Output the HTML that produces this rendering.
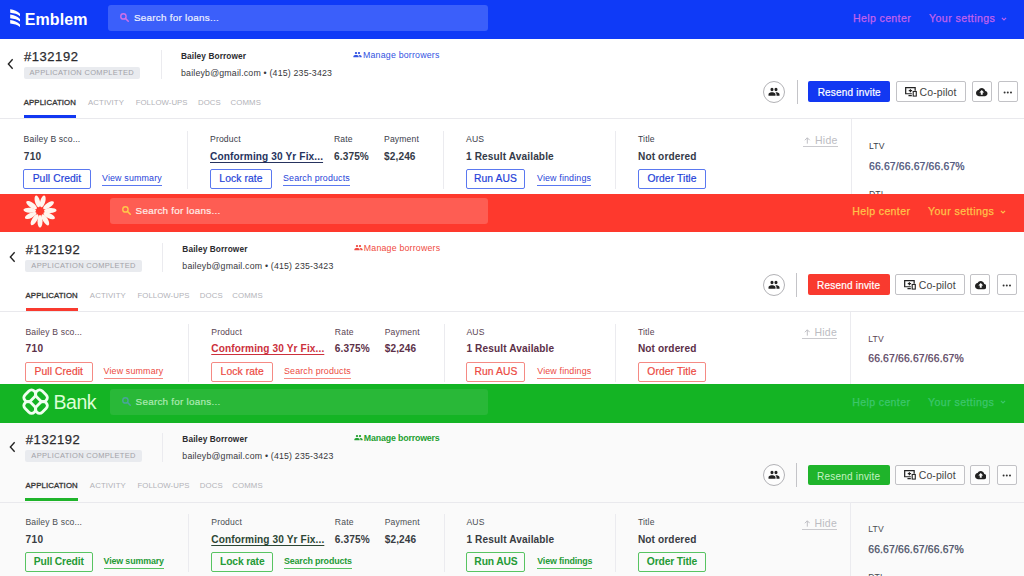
<!DOCTYPE html>
<html><head><meta charset="utf-8"><title>Themes</title>
<style>
*{box-sizing:border-box;margin:0;padding:0}
html,body{width:1024px;height:576px;overflow:hidden;background:#fff;font-family:"Liberation Sans",sans-serif;color:#2a2a2e}
.panel{position:absolute;left:0;width:1024px;overflow:hidden;background:linear-gradient(var(--hb) 0,var(--hb) var(--hh),var(--bg) var(--hh))}
.p1{z-index:3;--hh:38.8px}.p2{z-index:2;--hh:39.4px}.p3{z-index:1;--hh:39.7px}
.in{position:absolute;left:0;top:0;width:1030px;height:100%;transform-origin:0 0}

.in>*{position:absolute}
.p1{--c:#1238f2;--cl:#3253e2;--hb:#0f3af7;--sb:#3b5ffa;--st:#eef1ff;--ht:#c262ee;--mg:#d070e8;--bd:#5a78f0;--tx:#1f3fd8;--lb:#3a3d4a;--vl:#343a48;--pl:#26335e;--mw:normal;--bg:#fff}
.p2{--c:#f93a2f;--cl:#f04a40;--hb:#fe392d;--sb:#fe5d53;--st:#ffeeea;--ht:#ffc24a;--mg:#ffc84a;--bd:#f58a84;--tx:#ec4a42;--lb:#5a4452;--vl:#5c3048;--pl:#cc303c;--mw:normal;--bg:#fff}
.p3{--c:#1fb42b;--cl:#23a030;--hb:#14b424;--sb:#29b838;--st:#aeeab4;--ht:#3cc66c;--mg:#4aa49a;--bd:#58c462;--tx:#259a36;--lb:#4a4e52;--vl:#383c42;--pl:#2c4634;--mw:bold;--bg:#fafafa}
.hdr{left:0;top:0;width:1030px;height:39px}
.hdr>*{position:absolute}
.search{left:108px;top:5px;width:380px;height:26px;border-radius:3px;background:var(--sb);color:var(--st);font-size:9.9px;line-height:26px}
.search span{position:absolute;left:26px;top:0;letter-spacing:.25px;-webkit-text-stroke:.2px currentColor}
.mag{position:absolute;left:11.3px;top:7.3px;width:10.6px;height:10.6px;color:var(--mg)}
.help{left:853px;top:12px;font-size:10.6px;line-height:12px;color:var(--ht);letter-spacing:.35px;-webkit-text-stroke:.25px var(--ht)}
.sett{left:929px;top:12px;font-size:10.6px;line-height:12px;color:var(--ht);letter-spacing:.42px;white-space:nowrap;-webkit-text-stroke:.25px var(--ht)}
.sett svg{width:6px;height:4px;margin-left:6px;vertical-align:1.5px}
.lg1{left:9.6px;top:8.9px;width:10.7px;height:19px}
.lt1{left:24.7px;top:10px;font-size:16px;line-height:19px;font-weight:bold;color:#fff;letter-spacing:.1px}
.lg2{left:20.5px;top:0px;width:36px;height:36px}
.lg3{left:19.2px;top:2.9px;width:29.2px;height:29.2px}
.lt3{left:51.7px;top:7.5px;font-size:19.5px;line-height:22px;color:#dcffd6;letter-spacing:-.45px}
.back{left:7px;top:58px;width:7px;height:12px}
.loanno{left:24px;top:49px;font-size:13px;line-height:16px;letter-spacing:.55px;color:#2b2b2f;-webkit-text-stroke:.25px #2b2b2f}
.badge{left:23.5px;top:67px;width:116.5px;height:12px;background:#e9ebef;border-radius:2px;font-size:7.5px;line-height:12.500px;text-align:center;color:#a2a2a8;letter-spacing:.32px;white-space:nowrap}
.vd{width:1px;background:#ebebef}
.bname{left:181px;top:50.5px;font-size:8.3px;line-height:11px;font-weight:bold;color:#2b2b2f;letter-spacing:.1px}
.bmail{left:181px;top:67.5px;font-size:8.8px;line-height:11px;color:#38383c;letter-spacing:.18px;white-space:nowrap}
.manage{font-weight:var(--mw);left:353px;top:49.5px;font-size:8.8px;line-height:11px;color:var(--cl);letter-spacing:.2px;white-space:nowrap}
.manage svg{width:9px;height:9px;vertical-align:-1.500px;margin-right:1px}
.tabs{left:23.7px;top:98px;font-size:7.8px;line-height:10px;color:#b2b2b8;letter-spacing:.12px;white-space:nowrap}
.tabs span{position:absolute;top:0}
.tabs .on{color:#333;left:0;-webkit-text-stroke:.3px #333}
.tabline{left:23.7px;top:114.7px;width:52.7px;height:3px;background:var(--c)}
.hd{left:-3px;top:118.4px;width:1036px;height:1px;background:#e9e9ed}
.avatar{left:763.4px;top:81px;width:22px;height:22px;border-radius:50%;border:1px solid #b2b2b6;background:#fff}
.avatar svg{position:absolute;left:4px;top:3.2px;width:12px;height:13.6px}
.resend{left:808.3px;top:81.4px;width:82px;height:20.3px;border-radius:2px;background:var(--c);color:#fff;font-size:10px;line-height:23px;-webkit-text-stroke:.2px #fff;text-align:center;letter-spacing:.2px}
.obtn{top:81.4px;height:20.3px;border:1px solid #c2c2c6;border-radius:2px;background:#fff;font-size:10px;line-height:18.3px;color:#2b2b2f;white-space:nowrap;text-align:center;letter-spacing:.1px}
.cop{position:absolute;left:6.7px;top:2.6px;width:13.4px;height:12.4px}
.cot{position:absolute;left:22.6px;top:0.5px;font-size:10.5px;color:#444}
.cld{position:absolute;left:3.5px;top:3.4px;width:11.5px;height:12.2px}
.dots{position:absolute;left:4.3px;top:8.4px;width:9.6px;height:3.2px}
.lbl{top:134px;font-size:8.600px;line-height:11px;color:var(--lb);letter-spacing:.15px;white-space:nowrap}
.val{top:150.6px;font-size:10.1px;line-height:12px;font-weight:bold;color:var(--vl);letter-spacing:.12px;white-space:nowrap}
.val.u{text-decoration:underline;text-underline-offset:1.5px;text-decoration-thickness:1px;text-decoration-skip-ink:none;color:var(--pl)}
.btn{font-weight:var(--mw);top:168.8px;height:20px;border:1px solid var(--bd);border-radius:2px;background:transparent;font-size:10.3px;line-height:18.4px;color:var(--tx);text-align:center;white-space:nowrap;letter-spacing:.1px}
.lnk{font-weight:var(--mw);top:173px;font-size:8.9px;line-height:11px;color:var(--tx);border-bottom:1px solid var(--bd);padding-bottom:1px;letter-spacing:.15px;white-space:nowrap}
.hide{left:802.6px;top:134px;width:35px;font-size:10.5px;line-height:12px;color:#bcbcc2;border-bottom:1px solid #cacace;letter-spacing:.25px;white-space:nowrap;text-align:right}
.hide svg{position:absolute;left:1.5px;top:2.8px;width:6.6px;height:7px}
.ltv{left:869px;top:160.7px;font-size:10.4px;line-height:12px;color:#4a5178;letter-spacing:.15px;-webkit-text-stroke:.25px #4a5178;white-space:nowrap}

.p3 .btn,.p3 .lnk,.p3 .manage{letter-spacing:-.15px}
.p3 .resend{color:#c4f2c4;-webkit-text-stroke:0}
.p3 .obtn,.p3 .avatar{background:#fdfdfd}

.p1 .btn,.p2 .btn{-webkit-text-stroke:.2px currentColor}

.p3 .hdr{top:.7px}
.p2 .val,.p2 .hide,.p2 .ltv{margin-top:-.6px}
.p2 .ltv{color:#5a4462;-webkit-text-stroke-color:#5a4462}
.p3 .ltv{color:#484e64;-webkit-text-stroke-color:#484e64}
.p3 .tabline{margin-left:-.6px;width:53.3px}

.p2 .search,.p3 .search{left:109.57px}
.p2 .help,.p3 .help{left:852.26px}
.p2 .sett,.p3 .sett{left:928.02px}
.p2 .lg2,.p3 .lg2{left:22.34px}
.p2 .lg3,.p3 .lg3{left:21.04px}
.p2 .lt3,.p3 .lt3{left:53.44px}
.p2 .back,.p3 .back{left:8.88px}
.p2 .loanno,.p3 .loanno{left:25.83px}
.p2 .badge,.p3 .badge{left:25.33px}
.p2 .bname,.p3 .bname{left:182.34px}
.p2 .bmail,.p3 .bmail{left:182.34px}
.p2 .manage,.p3 .manage{left:353.81px}
.p2 .tabs,.p3 .tabs{left:25.53px}
.p2 .tabline,.p3 .tabline{left:25.53px}
.p2 .avatar,.p3 .avatar{left:762.93px}
.p2 .resend,.p3 .resend{left:807.69px}
.p2 .hide,.p3 .hide{left:802.01px}
.p2 .ltv,.p3 .ltv{left:868.21px}
.p2 .search,.p3 .search{width:378.8px}

</style></head><body>

<div class="panel p1" style="top:0px;height:193.75px"><div class="in">
  <div class="hdr">
    <svg class="lg1" viewBox="0 0 11 19"><g fill="#fff"><path d="M0.2 0.00 C4 0.50 8 2.10 10.4 4.70 L10.4 7.30 C8 5.20 4 4.10 0.2 3.70Z"/><path d="M0.2 5.50 C4 6.00 8 7.60 10.4 10.20 L10.4 12.80 C8 10.70 4 9.60 0.2 9.20Z"/><path d="M0.2 11.00 C4 11.50 8 13.10 10.4 15.70 L10.4 18.30 C8 16.20 4 15.10 0.2 14.70Z"/></g></svg><div class="lt1">Emblem</div>
    <div class="search"><svg class="mag" viewBox="0 0 24 24"><circle cx="10" cy="10" r="6" fill="none" stroke="currentColor" stroke-width="3.2"/><path d="M14.5 14.5 L21 21" stroke="currentColor" stroke-width="3.4" stroke-linecap="round"/></svg><span>Search for loans...</span></div>
    <div class="help">Help center</div>
    <div class="sett">Your settings<svg viewBox="0 0 10 6"><path d="M1.5 1.2 L5 4.5 L8.5 1.2" fill="none" stroke="currentColor" stroke-width="2"/></svg></div>
  </div>
  <svg class="back" viewBox="0 0 8 14"><path d="M6.5 1.5 L1.5 7 L6.5 12.5" fill="none" stroke="#222" stroke-width="1.6"/></svg>
  <div class="loanno">#132192</div>
  <div class="badge">APPLICATION COMPLETED</div>
  <div class="vd" style="left:161px;top:50px;height:29px"></div>
  <div class="bname">Bailey Borrower</div>
  <div class="bmail">baileyb@gmail.com &bull; (415) 235-3423</div>
  <div class="manage"><svg viewBox="0 0 24 24"><path fill="currentColor" d="M16 11c1.66 0 2.99-1.34 2.99-3S17.66 5 16 5c-1.66 0-3 1.34-3 3s1.34 3 3 3zm-8 0c1.66 0 2.99-1.34 2.99-3S9.66 5 8 5C6.34 5 5 6.34 5 8s1.34 3 3 3zm0 2c-2.33 0-7 1.17-7 3.500V19h14v-2.500c0-2.330-4.670-3.500-7-3.500zm8 0c-.29 0-.62.02-.97.05 1.160.84 1.970 1.970 1.970 3.450V19h6v-2.500c0-2.330-4.670-3.500-7-3.500z"/></svg>Manage borrowers</div>
  <div class="tabs"><span class="on">APPLICATION</span><span style="left:64.3px">ACTIVITY</span><span style="left:112px;letter-spacing:.05px">FOLLOW-UPS</span><span style="left:174.2px">DOCS</span><span style="left:206.8px">COMMS</span></div>
  <div class="tabline"></div>
  <div class="hd"></div>
  <div class="avatar"><svg viewBox="0 0 24 24" preserveAspectRatio="none"><path fill="#222" d="M16 11c1.66 0 2.99-1.34 2.99-3S17.66 5 16 5c-1.66 0-3 1.34-3 3s1.34 3 3 3zm-8 0c1.66 0 2.99-1.34 2.99-3S9.66 5 8 5C6.34 5 5 6.34 5 8s1.34 3 3 3zm0 2c-2.33 0-7 1.17-7 3.500V19h14v-2.500c0-2.330-4.670-3.500-7-3.500zm8 0c-.29 0-.62.02-.97.05 1.160.84 1.970 1.970 1.970 3.450V19h6v-2.500c0-2.330-4.670-3.500-7-3.500z"/></svg></div>
  <div class="vd" style="left:797px;top:80px;height:23.5px;background:#c4c4c8"></div>
  <div class="resend">Resend invite</div>
  <div class="obtn" style="left:896px;width:70px"><svg class="cop" viewBox="0 0 24 24" preserveAspectRatio="none"><path fill="none" stroke="#222" stroke-width="2.2" d="M14 17H3V5h17v6"/><path stroke="#222" stroke-width="2.2" d="M8 20.500h6M11.500 8v6M8.500 11h6"/><rect x="16.500" y="12.500" width="5.500" height="9" fill="#fff" stroke="#222" stroke-width="2"/></svg><span class="cot">Co-pilot</span></div>
  <div class="obtn" style="left:971.5px;width:20px"><svg class="cld" viewBox="0 0 24 24" preserveAspectRatio="none"><path fill="#222" d="M19.350 10.040C18.670 6.590 15.640 4 12 4 9.110 4 6.600 5.640 5.350 8.040 2.340 8.360 0 10.910 0 14c0 3.310 2.690 6 6 6h13c2.760 0 5-2.240 5-5 0-2.640-2.050-4.780-4.650-4.960zM14 13v4h-4v-4H7l5-5 5 5h-3z"/></svg></div>
  <div class="obtn" style="left:998.2px;width:20px"><svg class="dots" viewBox="0 0 12 4"><circle cx="2" cy="2" r="1.250" fill="#333"/><circle cx="6" cy="2" r="1.250" fill="#333"/><circle cx="10" cy="2" r="1.250" fill="#333"/></svg></div>

  <div class="lbl" style="left:23.6px">Bailey B sco...</div>
  <div class="val" style="left:23.7px;letter-spacing:.35px">710</div>
  <div class="btn" style="left:23.2px;width:67.5px">Pull Credit</div>
  <div class="lnk" style="left:102px">View summary</div>
  <div class="vd" style="left:187px;top:131px;height:58px"></div>

  <div class="lbl" style="left:210px">Product</div>
  <div class="val u" style="left:210px">Conforming 30 Yr Fix...</div>
  <div class="btn" style="left:210px;width:62px">Lock rate</div>
  <div class="lnk" style="left:283px">Search products</div>
  <div class="lbl" style="left:334px">Rate</div>
  <div class="val" style="left:334px">6.375%</div>
  <div class="lbl" style="left:384px">Payment</div>
  <div class="val" style="left:384px">$2,246</div>
  <div class="vd" style="left:443px;top:131px;height:58px"></div>

  <div class="lbl" style="left:466px">AUS</div>
  <div class="val" style="left:466px">1 Result Available</div>
  <div class="btn" style="left:466px;width:59px">Run AUS</div>
  <div class="lnk" style="left:537px">View findings</div>
  <div class="vd" style="left:615px;top:131px;height:58px"></div>

  <div class="lbl" style="left:638px">Title</div>
  <div class="val" style="left:638px">Not ordered</div>
  <div class="btn" style="left:638px;width:68px">Order Title</div>
  <div class="hide"><svg viewBox="0 0 7 8"><path d="M3.5 7.600V1M0.700 3.700L3.500 0.900L6.300 3.700" fill="none" stroke="#bcbcc2" stroke-width="1.1"/></svg>Hide</div>
  <div class="vd" style="left:851px;top:119px;height:90px"></div>
  <div class="lbl" style="left:869px;top:141px">LTV</div>
  <div class="ltv">66.67/66.67/66.67%</div>
  <div class="lbl" style="left:869px;top:188.5px">DTI</div>
</div></div>

<div class="panel p2" style="top:193px;height:191px"><div class="in">
  <div class="hdr">
    <svg class="lg2" viewBox="-18 -18 36 36"><g fill="#fff6ee"><ellipse cx="0" cy="-10.00" rx="2.5" ry="6.00" transform="rotate(-15)"/><ellipse cx="0" cy="-10.00" rx="2.5" ry="6.00" transform="rotate(16)"/><ellipse cx="0" cy="-10.30" rx="2.5" ry="6.30" transform="rotate(56)"/><ellipse cx="0" cy="-10.30" rx="2.5" ry="6.30" transform="rotate(87)"/><ellipse cx="0" cy="-10.30" rx="2.5" ry="6.30" transform="rotate(117)"/><ellipse cx="0" cy="-10.30" rx="2.5" ry="6.30" transform="rotate(149)"/><ellipse cx="0" cy="-10.30" rx="2.5" ry="6.30" transform="rotate(180)"/><ellipse cx="0" cy="-10.30" rx="2.5" ry="6.30" transform="rotate(212)"/><ellipse cx="0" cy="-10.30" rx="2.5" ry="6.30" transform="rotate(244.5)"/><ellipse cx="0" cy="-10.30" rx="2.5" ry="6.30" transform="rotate(274)"/><ellipse cx="0" cy="-10.30" rx="2.5" ry="6.30" transform="rotate(305)"/></g></svg>
    <div class="search"><svg class="mag" viewBox="0 0 24 24"><circle cx="10" cy="10" r="6" fill="none" stroke="currentColor" stroke-width="3.2"/><path d="M14.5 14.5 L21 21" stroke="currentColor" stroke-width="3.4" stroke-linecap="round"/></svg><span>Search for loans...</span></div>
    <div class="help">Help center</div>
    <div class="sett">Your settings<svg viewBox="0 0 10 6"><path d="M1.5 1.2 L5 4.5 L8.5 1.2" fill="none" stroke="currentColor" stroke-width="2"/></svg></div>
  </div>
  <svg class="back" viewBox="0 0 8 14"><path d="M6.5 1.5 L1.5 7 L6.5 12.5" fill="none" stroke="#222" stroke-width="1.6"/></svg>
  <div class="loanno">#132192</div>
  <div class="badge">APPLICATION COMPLETED</div>
  <div class="vd" style="left:162.40px;top:50px;height:29px"></div>
  <div class="bname">Bailey Borrower</div>
  <div class="bmail">baileyb@gmail.com &bull; (415) 235-3423</div>
  <div class="manage"><svg viewBox="0 0 24 24"><path fill="currentColor" d="M16 11c1.66 0 2.99-1.34 2.99-3S17.66 5 16 5c-1.66 0-3 1.34-3 3s1.34 3 3 3zm-8 0c1.66 0 2.99-1.34 2.99-3S9.66 5 8 5C6.34 5 5 6.34 5 8s1.34 3 3 3zm0 2c-2.33 0-7 1.17-7 3.500V19h14v-2.500c0-2.330-4.670-3.500-7-3.500zm8 0c-.29 0-.62.02-.97.05 1.160.84 1.970 1.970 1.970 3.450V19h6v-2.500c0-2.330-4.670-3.500-7-3.500z"/></svg>Manage borrowers</div>
  <div class="tabs"><span class="on">APPLICATION</span><span style="left:64.3px">ACTIVITY</span><span style="left:112px;letter-spacing:.05px">FOLLOW-UPS</span><span style="left:174.2px">DOCS</span><span style="left:206.8px">COMMS</span></div>
  <div class="tabline"></div>
  <div class="hd"></div>
  <div class="avatar"><svg viewBox="0 0 24 24" preserveAspectRatio="none"><path fill="#222" d="M16 11c1.66 0 2.99-1.34 2.99-3S17.66 5 16 5c-1.66 0-3 1.34-3 3s1.34 3 3 3zm-8 0c1.66 0 2.99-1.34 2.99-3S9.66 5 8 5C6.34 5 5 6.34 5 8s1.34 3 3 3zm0 2c-2.33 0-7 1.17-7 3.500V19h14v-2.500c0-2.330-4.670-3.500-7-3.500zm8 0c-.29 0-.62.02-.97.05 1.160.84 1.970 1.970 1.970 3.450V19h6v-2.500c0-2.330-4.670-3.500-7-3.500z"/></svg></div>
  <div class="vd" style="left:796.43px;top:80px;height:23.5px;background:#c4c4c8"></div>
  <div class="resend">Resend invite</div>
  <div class="obtn" style="left:895.12px;width:70px"><svg class="cop" viewBox="0 0 24 24" preserveAspectRatio="none"><path fill="none" stroke="#222" stroke-width="2.2" d="M14 17H3V5h17v6"/><path stroke="#222" stroke-width="2.2" d="M8 20.500h6M11.500 8v6M8.500 11h6"/><rect x="16.500" y="12.500" width="5.500" height="9" fill="#fff" stroke="#222" stroke-width="2"/></svg><span class="cot">Co-pilot</span></div>
  <div class="obtn" style="left:970.39px;width:20px"><svg class="cld" viewBox="0 0 24 24" preserveAspectRatio="none"><path fill="#222" d="M19.350 10.040C18.670 6.590 15.640 4 12 4 9.110 4 6.600 5.640 5.350 8.040 2.340 8.360 0 10.910 0 14c0 3.310 2.690 6 6 6h13c2.760 0 5-2.240 5-5 0-2.640-2.050-4.780-4.650-4.960zM14 13v4h-4v-4H7l5-5 5 5h-3z"/></svg></div>
  <div class="obtn" style="left:997.01px;width:20px"><svg class="dots" viewBox="0 0 12 4"><circle cx="2" cy="2" r="1.250" fill="#333"/><circle cx="6" cy="2" r="1.250" fill="#333"/><circle cx="10" cy="2" r="1.250" fill="#333"/></svg></div>

  <div class="lbl" style="left:25.43px">Bailey B sco...</div>
  <div class="val" style="left:25.53px;letter-spacing:.35px">710</div>
  <div class="btn" style="left:25.03px;width:67.5px">Pull Credit</div>
  <div class="lnk" style="left:103.58px">View summary</div>
  <div class="vd" style="left:188.32px;top:131px;height:58px"></div>

  <div class="lbl" style="left:211.25px">Product</div>
  <div class="val u" style="left:211.25px">Conforming 30 Yr Fix...</div>
  <div class="btn" style="left:211.25px;width:62px">Lock rate</div>
  <div class="lnk" style="left:284.02px">Search products</div>
  <div class="lbl" style="left:334.86px">Rate</div>
  <div class="val" style="left:334.86px">6.375%</div>
  <div class="lbl" style="left:384.71px">Payment</div>
  <div class="val" style="left:384.71px">$2,246</div>
  <div class="vd" style="left:443.53px;top:131px;height:58px"></div>

  <div class="lbl" style="left:466.46px">AUS</div>
  <div class="val" style="left:466.46px">1 Result Available</div>
  <div class="btn" style="left:466.46px;width:59px">Run AUS</div>
  <div class="lnk" style="left:537.24px">View findings</div>
  <div class="vd" style="left:614.99px;top:131px;height:58px"></div>

  <div class="lbl" style="left:637.92px">Title</div>
  <div class="val" style="left:637.92px">Not ordered</div>
  <div class="btn" style="left:637.92px;width:68px">Order Title</div>
  <div class="hide"><svg viewBox="0 0 7 8"><path d="M3.5 7.600V1M0.700 3.700L3.500 0.900L6.300 3.700" fill="none" stroke="#bcbcc2" stroke-width="1.1"/></svg>Hide</div>
  <div class="vd" style="left:850.26px;top:119px;height:90px"></div>
  <div class="lbl" style="left:868.21px;top:141px">LTV</div>
  <div class="ltv">66.67/66.67/66.67%</div>
  <div class="lbl" style="left:868.21px;top:188.5px">DTI</div>
</div></div>

<div class="panel p3" style="top:383.3px;height:193px"><div class="in">
  <div class="hdr">
    <svg class="lg3" viewBox="-14 -14 28 28"><g fill="none" stroke="#f0fff0" stroke-width="2.75"><rect x="-3.90" y="-6.30" width="7.80" height="12.60" rx="3.60" transform="translate(-5.55 -5.55) rotate(45)"/><rect x="-3.90" y="-6.30" width="7.80" height="12.60" rx="3.60" transform="translate(5.55 -5.55) rotate(-45)"/><rect x="-3.90" y="-6.30" width="7.80" height="12.60" rx="3.60" transform="translate(-5.55 5.55) rotate(-45)"/><rect x="-3.90" y="-6.30" width="7.80" height="12.60" rx="3.60" transform="translate(5.55 5.55) rotate(45)"/></g></svg><div class="lt3">Bank</div>
    <div class="search"><svg class="mag" viewBox="0 0 24 24"><circle cx="10" cy="10" r="6" fill="none" stroke="currentColor" stroke-width="3.2"/><path d="M14.5 14.5 L21 21" stroke="currentColor" stroke-width="3.4" stroke-linecap="round"/></svg><span>Search for loans...</span></div>
    <div class="help">Help center</div>
    <div class="sett">Your settings<svg viewBox="0 0 10 6"><path d="M1.5 1.2 L5 4.5 L8.5 1.2" fill="none" stroke="currentColor" stroke-width="2"/></svg></div>
  </div>
  <svg class="back" viewBox="0 0 8 14"><path d="M6.5 1.5 L1.5 7 L6.5 12.5" fill="none" stroke="#222" stroke-width="1.6"/></svg>
  <div class="loanno">#132192</div>
  <div class="badge">APPLICATION COMPLETED</div>
  <div class="vd" style="left:162.40px;top:50px;height:29px"></div>
  <div class="bname">Bailey Borrower</div>
  <div class="bmail">baileyb@gmail.com &bull; (415) 235-3423</div>
  <div class="manage"><svg viewBox="0 0 24 24"><path fill="currentColor" d="M16 11c1.66 0 2.99-1.34 2.99-3S17.66 5 16 5c-1.66 0-3 1.34-3 3s1.34 3 3 3zm-8 0c1.66 0 2.99-1.34 2.99-3S9.66 5 8 5C6.34 5 5 6.34 5 8s1.34 3 3 3zm0 2c-2.33 0-7 1.17-7 3.500V19h14v-2.500c0-2.330-4.670-3.500-7-3.500zm8 0c-.29 0-.62.02-.97.05 1.160.84 1.970 1.970 1.970 3.450V19h6v-2.500c0-2.330-4.670-3.500-7-3.500z"/></svg>Manage borrowers</div>
  <div class="tabs"><span class="on">APPLICATION</span><span style="left:64.3px">ACTIVITY</span><span style="left:112px;letter-spacing:.05px">FOLLOW-UPS</span><span style="left:174.2px">DOCS</span><span style="left:206.8px">COMMS</span></div>
  <div class="tabline"></div>
  <div class="hd"></div>
  <div class="avatar"><svg viewBox="0 0 24 24" preserveAspectRatio="none"><path fill="#222" d="M16 11c1.66 0 2.99-1.34 2.99-3S17.66 5 16 5c-1.66 0-3 1.34-3 3s1.34 3 3 3zm-8 0c1.66 0 2.99-1.34 2.99-3S9.66 5 8 5C6.34 5 5 6.34 5 8s1.34 3 3 3zm0 2c-2.33 0-7 1.17-7 3.500V19h14v-2.500c0-2.330-4.670-3.500-7-3.500zm8 0c-.29 0-.62.02-.97.05 1.160.84 1.970 1.970 1.970 3.450V19h6v-2.500c0-2.330-4.670-3.500-7-3.500z"/></svg></div>
  <div class="vd" style="left:796.43px;top:80px;height:23.5px;background:#c4c4c8"></div>
  <div class="resend">Resend invite</div>
  <div class="obtn" style="left:895.12px;width:70px"><svg class="cop" viewBox="0 0 24 24" preserveAspectRatio="none"><path fill="none" stroke="#222" stroke-width="2.2" d="M14 17H3V5h17v6"/><path stroke="#222" stroke-width="2.2" d="M8 20.500h6M11.500 8v6M8.500 11h6"/><rect x="16.500" y="12.500" width="5.500" height="9" fill="#fff" stroke="#222" stroke-width="2"/></svg><span class="cot">Co-pilot</span></div>
  <div class="obtn" style="left:970.39px;width:20px"><svg class="cld" viewBox="0 0 24 24" preserveAspectRatio="none"><path fill="#222" d="M19.350 10.040C18.670 6.590 15.640 4 12 4 9.110 4 6.600 5.640 5.350 8.040 2.340 8.360 0 10.910 0 14c0 3.310 2.690 6 6 6h13c2.760 0 5-2.240 5-5 0-2.640-2.050-4.780-4.650-4.960zM14 13v4h-4v-4H7l5-5 5 5h-3z"/></svg></div>
  <div class="obtn" style="left:997.01px;width:20px"><svg class="dots" viewBox="0 0 12 4"><circle cx="2" cy="2" r="1.250" fill="#333"/><circle cx="6" cy="2" r="1.250" fill="#333"/><circle cx="10" cy="2" r="1.250" fill="#333"/></svg></div>

  <div class="lbl" style="left:25.43px">Bailey B sco...</div>
  <div class="val" style="left:25.53px;letter-spacing:.35px">710</div>
  <div class="btn" style="left:25.03px;width:67.5px">Pull Credit</div>
  <div class="lnk" style="left:103.58px">View summary</div>
  <div class="vd" style="left:188.32px;top:131px;height:58px"></div>

  <div class="lbl" style="left:211.25px">Product</div>
  <div class="val u" style="left:211.25px">Conforming 30 Yr Fix...</div>
  <div class="btn" style="left:211.25px;width:62px">Lock rate</div>
  <div class="lnk" style="left:284.02px">Search products</div>
  <div class="lbl" style="left:334.86px">Rate</div>
  <div class="val" style="left:334.86px">6.375%</div>
  <div class="lbl" style="left:384.71px">Payment</div>
  <div class="val" style="left:384.71px">$2,246</div>
  <div class="vd" style="left:443.53px;top:131px;height:58px"></div>

  <div class="lbl" style="left:466.46px">AUS</div>
  <div class="val" style="left:466.46px">1 Result Available</div>
  <div class="btn" style="left:466.46px;width:59px">Run AUS</div>
  <div class="lnk" style="left:537.24px">View findings</div>
  <div class="vd" style="left:614.99px;top:131px;height:58px"></div>

  <div class="lbl" style="left:637.92px">Title</div>
  <div class="val" style="left:637.92px">Not ordered</div>
  <div class="btn" style="left:637.92px;width:68px">Order Title</div>
  <div class="hide"><svg viewBox="0 0 7 8"><path d="M3.5 7.600V1M0.700 3.700L3.500 0.900L6.300 3.700" fill="none" stroke="#bcbcc2" stroke-width="1.1"/></svg>Hide</div>
  <div class="vd" style="left:850.26px;top:119px;height:90px"></div>
  <div class="lbl" style="left:868.21px;top:141px">LTV</div>
  <div class="ltv">66.67/66.67/66.67%</div>
  <div class="lbl" style="left:868.21px;top:188.5px">DTI</div>
</div></div>
</body></html>
